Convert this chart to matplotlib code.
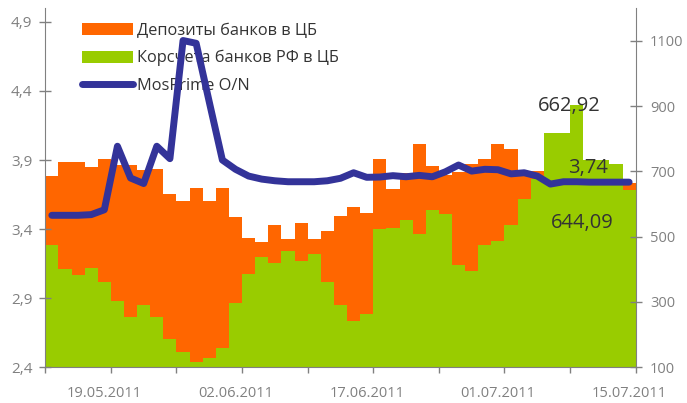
import matplotlib
matplotlib.use("Agg")
import matplotlib.pyplot as plt
import pandas as pd

# ---- data -------------------------------------------------------------
# business days 13.05.2011 - 15.07.2011 (13.06 was a holiday)
dates = pd.bdate_range("2011-05-13", "2011-07-15", freq="C", holidays=["2011-06-13"])

korr = [474, 400, 383, 405, 362, 303, 253, 291, 253, 187,
        147, 117, 129, 159, 297, 386, 437, 420, 456, 425,
        447, 362, 291, 242, 263, 523, 526, 551, 508, 581,
        569, 413, 395, 474, 486, 536, 615, 676, 817, 817,
        902, 735, 734, 722, 644.09]

totals = [687, 729, 729, 714, 738, 720, 719, 704, 707, 631,
          609, 648, 609, 648, 560, 496, 484, 536, 492, 542,
          492, 517, 563, 590, 572, 738, 646, 694, 784, 716,
          688, 697, 722, 738, 784, 768, 690, 700, 817, 817,
          902, 735, 734, 722, 662.92]
deposits = [t - k for t, k in zip(totals, korr)]

mosprime = [3.50, 3.50, 3.50, 3.505, 3.54, 4.00, 3.77, 3.73, 4.00, 3.91,
            4.765, 4.745, 4.32, 3.90, 3.833, 3.784, 3.762, 3.75, 3.743, 3.743,
            3.743, 3.75, 3.768, 3.808, 3.775, 3.777, 3.787, 3.779, 3.789, 3.779,
            3.815, 3.864, 3.82, 3.833, 3.83, 3.80, 3.808, 3.784, 3.726, 3.743,
            3.743, 3.74, 3.74, 3.74, 3.74]

label_idx = [4, 14, 24, 34, 44]

left_ticks = [2.4, 2.9, 3.4, 3.9, 4.4, 4.9]
right_ticks = [100, 300, 500, 700, 900, 1100]

ORANGE = "#FF6600"
GREEN = "#99CC00"
BLUE = "#333399"
GREY = "#808080"
TXT = "#333333"

plt.rcParams["font.family"] = ["Open Sans", "DejaVu Sans"]

# ---- figure -----------------------------------------------------------
fig = plt.figure(figsize=(6.87, 4.03), dpi=100)
ax = fig.add_axes([0.0659, 0.0886, 0.8594, 0.8914])
ax2 = ax.twinx()
x = list(range(len(dates)))

b1 = ax.bar(x, deposits, bottom=korr, width=1.0, color=ORANGE, linewidth=0,
            label="Депозиты банков в ЦБ")
b2 = ax.bar(x, korr, width=1.0, color=GREEN, linewidth=0,
            label="Корсчета банков РФ в ЦБ")
ax.set_xlim(-0.5, len(dates) - 0.5)
ax.set_ylim(100, 1200)

# right axis (bars)
ax.yaxis.tick_right()
ax.set_yticks(right_ticks)
ax.set_yticklabels([str(v) for v in right_ticks])
ax.tick_params(axis="y", direction="inout", length=8.5, width=1, colors=GREY,
               labelsize=10.5, pad=6)

# x axis
ax.set_xticks([i + 0.5 for i in range(-1, len(dates), 5)])
ax.set_xticklabels([])
ax.tick_params(axis="x", which="major", direction="out", length=4.3, width=1, colors=GREY)
ax.set_xticks(label_idx, [dates[i].strftime("%d.%m.%Y") for i in label_idx], minor=True)
ax.tick_params(axis="x", which="minor", length=0, pad=13.5, labelsize=10.5, labelcolor=GREY)

for s in ["left", "top"]:
    ax.spines[s].set_visible(False)
for s in ["right", "bottom"]:
    ax.spines[s].set_color(GREY)

# line (left axis)
ln, = ax2.plot(x, mosprime, color=BLUE, linewidth=5, solid_capstyle="round",
               solid_joinstyle="round", label="MosPrime O/N")
ax2.set_ylim(2.4, 5.0)
ax2.yaxis.tick_left()
ax2.set_yticks(left_ticks)
ax2.set_yticklabels([f"{v:.1f}".replace(".", ",") for v in left_ticks])
ax2.tick_params(axis="y", direction="inout", length=8.5, width=1, colors=GREY,
                labelsize=11, pad=5)
for s in ["right", "top", "bottom"]:
    ax2.spines[s].set_visible(False)
ax2.spines["left"].set_color(GREY)
ax2.spines["left"].set_visible(True)

# value labels
ax.text(39.4, 900, "662,92", ha="center", va="center", fontsize=14.5, color=TXT)
ax.text(40.9, 710, "3,74", ha="center", va="center", fontsize=14.5, color=TXT)
ax.text(40.4, 542, "644,09", ha="center", va="center", fontsize=14.5, color=TXT)

# legend (below the line layer)
ax.legend(handles=[b1, b2, ln], loc="upper left", bbox_to_anchor=(0.119, 0.943),
          bbox_transform=fig.transFigure, frameon=False, fontsize=11.8,
          handlelength=3.15, handleheight=0.72, labelspacing=0.68,
          handletextpad=0.25, borderpad=0, borderaxespad=0, labelcolor=TXT)

fig.savefig("out.png", dpi=100)
